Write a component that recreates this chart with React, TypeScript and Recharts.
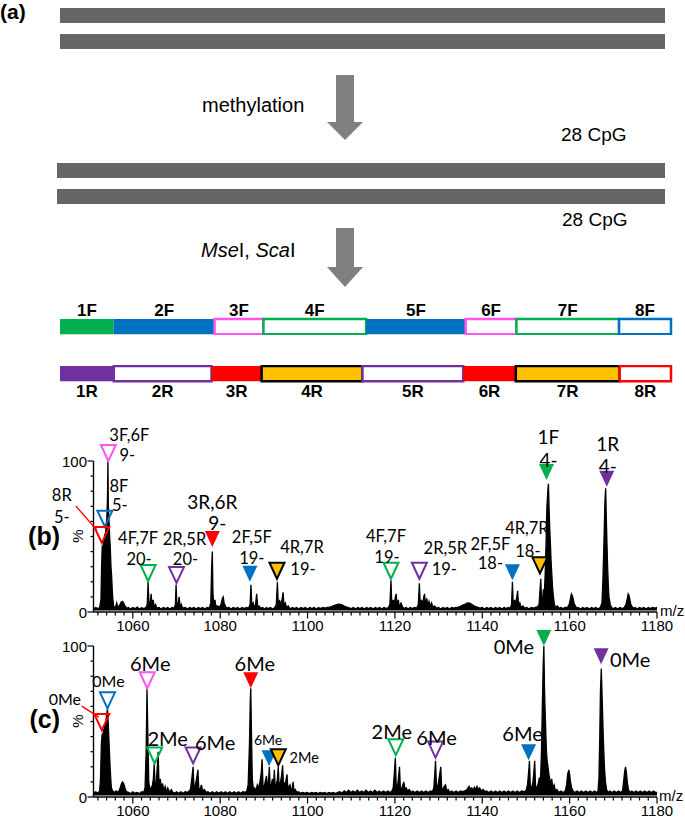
import React from "react";
import {
  BarChart,
  Bar,
  XAxis,
  YAxis,
  LabelList,
  ComposedChart,
  Area,
  Scatter,
} from "recharts";

// ---- (a) schematic ----
const dnaStrands = [
  { strand: "top", length: 1000 },
  { strand: "bottom", length: 1000 },
];
const fwdNames = ["1F", "2F", "3F", "4F", "5F", "6F", "7F", "8F"];
const fwdLengths = [88, 165, 80, 168, 163, 83, 168, 85];
const revNames = ["1R", "2R", "3R", "4R", "5R", "6R", "7R", "8R"];
const revLengths = [88, 160, 82, 165, 165, 86, 170, 84];

// ---- (b), (c) spectra ----
const majorTicks = [1060, 1080, 1100, 1120, 1140, 1160, 1180];
const yTicks = [0, 10, 20, 30, 40, 50, 60, 70, 80, 90, 100];

const specB: [number, number][] = [
  [1051, 2], [1051.5, 3], [1052, 2.2], [1052.4, 3],
  [1052.7, 8], [1052.85, 30], [1053.0, 44], [1053.15, 40], [1053.3, 47], [1053.45, 44], [1053.6, 52], [1053.75, 50], [1053.9, 58], [1054.05, 62], [1054.2, 75], [1054.3, 100], [1054.4, 70], [1054.55, 60], [1054.7, 50], [1054.85, 42], [1055.0, 30], [1055.15, 24], [1055.3, 14], [1055.45, 8], [1055.6, 4],
  [1056, 2.5], [1056.3, 6], [1056.6, 3], [1057, 4.5], [1057.3, 6.5], [1057.6, 7], [1057.9, 6], [1058.2, 4], [1058.6, 2.5],
  [1059, 3], [1059.5, 2], [1060, 3], [1060.5, 2.2], [1061, 3.2], [1061.5, 2], [1062, 2.8], [1062.5, 2.2], [1063, 3],
  [1063.3, 5], [1063.5, 20], [1063.7, 4], [1064.0, 7], [1064.2, 12], [1064.4, 4], [1064.65, 8], [1064.9, 3], [1065.2, 5], [1065.5, 2.5],
  [1066, 3], [1066.5, 2], [1067, 3], [1067.5, 2.2], [1068, 3], [1068.5, 2], [1069, 3], [1069.5, 2.5],
  [1069.75, 5], [1069.9, 18], [1070.1, 4], [1070.4, 6], [1070.6, 10], [1070.85, 3], [1071.1, 5], [1071.4, 2.5],
  [1072, 3], [1072.5, 2], [1073, 3], [1073.5, 2.2], [1074, 3], [1074.5, 2], [1075, 3], [1075.5, 2.2], [1076, 3], [1076.5, 2], [1077, 3], [1077.5, 2.5],
  [1077.85, 6], [1078.05, 30], [1078.2, 40], [1078.35, 12], [1078.55, 5], [1078.8, 8], [1079.0, 4], [1079.4, 4], [1079.8, 3],
  [1080.2, 5], [1080.5, 9], [1080.7, 10], [1080.9, 6], [1081.2, 4], [1081.5, 2.5],
  [1082, 3], [1082.5, 2], [1083, 3], [1083.5, 2.2], [1084, 3], [1084.5, 2], [1085, 3], [1085.5, 2.2], [1086, 3], [1086.5, 2.5],
  [1086.85, 5], [1087.05, 18], [1087.25, 4], [1087.55, 6], [1087.8, 3], [1088.1, 5], [1088.35, 12], [1088.6, 3], [1088.9, 4], [1089.3, 2.5],
  [1089.7, 3], [1090.2, 2], [1090.6, 3], [1091, 2.2], [1091.5, 3], [1092, 2], [1092.5, 3],
  [1092.85, 5], [1093.1, 20], [1093.3, 4], [1093.6, 8], [1093.85, 4], [1094.15, 8], [1094.4, 13], [1094.6, 4], [1094.9, 6], [1095.2, 3], [1095.6, 4],
  [1096, 2], [1096.5, 3], [1097, 2.2], [1097.5, 3], [1098, 2], [1098.5, 3], [1099, 2.2], [1099.5, 3], [1100, 2], [1100.5, 3], [1101, 2.2], [1101.5, 3], [1102, 2], [1102.5, 3], [1103, 2.2], [1103.5, 3], [1104, 2.5], [1104.5, 3],
  [1105, 3.2], [1105.5, 3.6], [1106, 4.2], [1106.5, 4.8], [1107, 5.2], [1107.5, 5], [1108, 4.5], [1108.5, 3.8], [1109, 3.2], [1109.5, 2.8],
  [1110, 2.2], [1110.5, 3], [1111, 2], [1111.5, 3], [1112, 2.2], [1112.5, 3], [1113, 2], [1113.5, 3], [1114, 2.2], [1114.5, 3], [1115, 2], [1115.5, 3], [1116, 2.2], [1116.5, 3], [1117, 2], [1117.5, 3], [1118, 2.2], [1118.5, 3],
  [1118.85, 5], [1119.1, 21], [1119.3, 4], [1119.6, 8], [1119.85, 5], [1120.1, 10], [1120.3, 12], [1120.5, 4], [1120.8, 8], [1121.0, 3], [1121.4, 6], [1121.8, 3],
  [1122.2, 2.5], [1122.6, 3], [1123, 2], [1123.5, 3], [1124, 2.2], [1124.5, 3], [1125, 2.5],
  [1125.35, 5], [1125.6, 19], [1125.8, 4], [1126.1, 8], [1126.35, 4], [1126.6, 10], [1126.8, 12], [1127.0, 4], [1127.3, 9], [1127.5, 4], [1127.8, 7], [1128.1, 4], [1128.4, 6], [1128.7, 3], [1129.1, 4], [1129.5, 2.5],
  [1130, 3], [1130.5, 2], [1131, 3], [1131.5, 2.2], [1132, 3], [1132.5, 2], [1133, 3], [1133.5, 2.5], [1134, 3], [1134.5, 3.2],
  [1135, 3.8], [1135.5, 4.5], [1136, 5], [1136.5, 5.8], [1137, 6], [1137.5, 5.2], [1138, 4.2], [1138.5, 3.5], [1139, 3],
  [1139.5, 2.5], [1140, 3], [1140.5, 2], [1141, 3], [1141.5, 2.2], [1142, 3], [1142.5, 2], [1143, 3], [1143.5, 2.2], [1144, 3], [1144.5, 2], [1145, 3], [1145.5, 2.2], [1146, 3], [1146.4, 2.5],
  [1146.7, 5], [1146.9, 20], [1147.1, 4], [1147.4, 8], [1147.6, 4], [1147.9, 10], [1148.1, 14], [1148.3, 4], [1148.6, 6], [1148.9, 3], [1149.3, 4],
  [1149.7, 2.5], [1150.2, 3], [1150.7, 2], [1151.2, 3], [1151.7, 2.5], [1152.2, 3], [1152.7, 3.5], [1153.0, 5],
  [1153.2, 14], [1153.4, 22], [1153.6, 5], [1153.85, 10], [1154.0, 15], [1154.2, 12], [1154.4, 25], [1154.6, 45], [1154.8, 70], [1155.0, 80], [1155.15, 85], [1155.3, 68], [1155.45, 55], [1155.6, 45], [1155.75, 34], [1155.9, 26], [1156.1, 16], [1156.3, 10], [1156.5, 5], [1156.8, 3],
  [1157.2, 4], [1157.6, 2.5], [1158, 3], [1158.5, 2.2], [1159, 3], [1159.5, 3],
  [1159.9, 5], [1160.2, 9], [1160.4, 12], [1160.6, 11], [1160.8, 9], [1161.0, 6], [1161.3, 4], [1161.7, 2.5],
  [1162, 3], [1162.5, 2], [1163, 3], [1163.5, 2.2], [1164, 3], [1164.5, 2], [1165, 3], [1165.5, 2.2], [1166, 3], [1166.5, 2], [1167, 3],
  [1167.4, 6], [1167.6, 20], [1167.8, 40], [1167.95, 58], [1168.1, 75], [1168.25, 82], [1168.4, 62], [1168.55, 45], [1168.7, 30], [1168.85, 18], [1169.0, 10], [1169.3, 5], [1169.6, 3],
  [1170, 2.2], [1170.5, 3], [1171, 2], [1171.5, 3], [1172, 2.2], [1172.5, 3],
  [1172.9, 5], [1173.2, 9], [1173.4, 12], [1173.6, 11], [1173.8, 8], [1174.0, 5], [1174.3, 3.5], [1174.7, 2.5],
  [1175, 3], [1175.5, 2], [1176, 3], [1176.5, 2.2], [1177, 3], [1177.5, 2], [1178, 3], [1178.5, 2.2], [1179, 3], [1179.5, 2.5], [1180, 3],
];

const specC: [number, number][] = [
  [1051, 2.5], [1051.5, 3.5], [1052, 2.5], [1052.4, 4],
  [1052.6, 12], [1052.8, 35], [1053.0, 42], [1053.15, 40], [1053.3, 45], [1053.45, 43], [1053.6, 48], [1053.75, 47], [1053.9, 52], [1054.05, 55], [1054.2, 59], [1054.35, 50], [1054.5, 40], [1054.65, 30], [1054.8, 20], [1054.95, 12], [1055.1, 6], [1055.4, 4],
  [1055.8, 3], [1056.2, 4], [1056.6, 3], [1057.0, 5], [1057.3, 8], [1057.6, 10], [1057.9, 9], [1058.2, 6], [1058.5, 3.5],
  [1059, 3], [1059.5, 2.2], [1060, 3.5], [1060.5, 2.5], [1061, 3], [1061.5, 2.2], [1062, 3.5], [1062.5, 3],
  [1062.8, 6], [1063.05, 30], [1063.25, 72], [1063.45, 40], [1063.65, 10], [1063.9, 5], [1064.2, 6], [1064.5, 8], [1064.7, 12], [1064.9, 22], [1065.1, 8], [1065.4, 10], [1065.6, 20], [1065.8, 30], [1066.0, 8], [1066.3, 12], [1066.55, 5], [1066.8, 9], [1067.1, 4], [1067.4, 7], [1067.7, 3.5], [1068.0, 6], [1068.4, 3], [1068.8, 5],
  [1069.2, 3], [1069.6, 2.5], [1070, 3.5], [1070.5, 2.5], [1071, 3.5], [1071.5, 2.5], [1072, 3.5], [1072.5, 3], [1072.9, 4],
  [1073.2, 5], [1073.5, 12], [1073.8, 20], [1074.0, 6], [1074.3, 8], [1074.6, 12], [1074.9, 18], [1075.1, 6], [1075.4, 5], [1075.7, 8], [1076.0, 4], [1076.4, 5], [1076.8, 3],
  [1077.2, 3.5], [1077.7, 2.5], [1078.2, 3.5], [1078.7, 2.5], [1079.2, 3.5], [1079.7, 2.5], [1080.2, 3.5], [1080.7, 2.5], [1081.2, 3.5], [1081.7, 2.5], [1082.2, 3.5], [1082.7, 2.5], [1083.2, 3.5], [1083.7, 2.5], [1084.2, 3.5], [1084.7, 2.5], [1085.2, 3.5], [1085.7, 3], [1086.1, 4],
  [1086.4, 8], [1086.7, 35], [1086.9, 65], [1087.0, 72], [1087.15, 45], [1087.35, 12], [1087.6, 5], [1087.9, 6], [1088.2, 4], [1088.5, 8], [1088.8, 6], [1089.1, 10], [1089.4, 16], [1089.6, 25], [1089.8, 8], [1090.05, 6], [1090.3, 10], [1090.6, 14], [1090.85, 6], [1091.05, 10], [1091.25, 20], [1091.45, 6], [1091.7, 8], [1091.95, 12], [1092.2, 6], [1092.4, 18], [1092.6, 6], [1092.85, 8], [1093.1, 12], [1093.3, 20], [1093.5, 6], [1093.8, 10], [1094.05, 14], [1094.3, 21], [1094.5, 7], [1094.75, 9], [1095.0, 10], [1095.3, 15], [1095.5, 5], [1095.75, 7], [1096.0, 8], [1096.25, 4], [1096.5, 6], [1096.7, 10], [1096.9, 4], [1097.2, 5], [1097.5, 3],
  [1097.9, 3.5], [1098.4, 2.5], [1098.9, 3], [1099.4, 2.5], [1099.9, 3], [1100.4, 2.2], [1100.9, 3], [1101.4, 2.5], [1101.9, 3], [1102.4, 2.2], [1102.9, 3], [1103.4, 2.5], [1103.9, 3], [1104.4, 2.2], [1104.9, 3], [1105.4, 2.5], [1105.9, 3], [1106.4, 2.2], [1106.9, 3],
  [1107.4, 3.5], [1107.9, 2.5], [1108.4, 4], [1108.9, 3], [1109.4, 4.5], [1109.9, 3], [1110.4, 4], [1110.9, 3], [1111.4, 4.5], [1111.9, 3], [1112.4, 4], [1112.9, 3], [1113.4, 4.5], [1113.9, 3], [1114.4, 4], [1114.9, 3], [1115.4, 4.5], [1115.9, 3], [1116.4, 4], [1116.9, 3], [1117.4, 4], [1117.9, 3], [1118.4, 4], [1118.9, 3], [1119.3, 4],
  [1119.6, 6], [1119.85, 15], [1120.1, 26], [1120.3, 8], [1120.55, 6], [1120.8, 12], [1121.05, 20], [1121.25, 6], [1121.5, 5], [1121.8, 8], [1122.05, 10], [1122.3, 5], [1122.6, 6], [1122.9, 4], [1123.3, 5], [1123.7, 3],
  [1124.1, 4], [1124.6, 3], [1125.1, 4], [1125.6, 3], [1126.1, 4], [1126.6, 3], [1127.1, 4], [1127.6, 3], [1128.1, 4], [1128.6, 3.5],
  [1128.9, 6], [1129.1, 14], [1129.3, 24], [1129.5, 8], [1129.75, 6], [1130.0, 10], [1130.3, 16], [1130.5, 20], [1130.7, 6], [1130.95, 5], [1131.3, 7], [1131.6, 8], [1131.85, 4], [1132.2, 5], [1132.6, 3],
  [1133.0, 4], [1133.5, 3], [1134.0, 4], [1134.5, 3], [1135.0, 4], [1135.5, 3.5], [1136.0, 4], [1136.5, 5], [1137.0, 7], [1137.3, 5], [1137.6, 6], [1137.9, 4.5], [1138.2, 6.5], [1138.5, 5], [1138.8, 7], [1139.1, 5], [1139.4, 6], [1139.8, 4], [1140.2, 5], [1140.6, 3.5],
  [1141.0, 4], [1141.5, 3], [1142.0, 4], [1142.5, 3], [1143.0, 4], [1143.5, 3], [1144.0, 4], [1144.5, 3], [1145.0, 4], [1145.5, 3], [1146.0, 4], [1146.5, 3], [1147.0, 4], [1147.5, 3], [1148.0, 4], [1148.5, 3], [1149.0, 4], [1149.5, 3.5], [1150.0, 4],
  [1150.35, 8], [1150.6, 16], [1150.8, 24], [1151.0, 7], [1151.3, 6], [1151.6, 10], [1151.8, 16], [1152.0, 24], [1152.2, 7], [1152.5, 6], [1152.8, 9], [1153.1, 13], [1153.3, 8], [1153.55, 30], [1153.75, 60], [1153.95, 88], [1154.1, 100], [1154.25, 72], [1154.4, 56], [1154.55, 42], [1154.7, 30], [1154.85, 24], [1155.05, 20], [1155.25, 15], [1155.45, 12], [1155.65, 8], [1155.9, 12], [1156.15, 6], [1156.45, 8], [1156.75, 4], [1157.1, 5], [1157.5, 3],
  [1158.0, 4], [1158.5, 3], [1159.0, 4],
  [1159.3, 8], [1159.55, 15], [1159.8, 18], [1160.0, 15], [1160.2, 10], [1160.45, 6], [1160.8, 4], [1161.2, 3],
  [1161.7, 4], [1162.2, 3], [1162.7, 4], [1163.2, 3], [1163.7, 4], [1164.2, 3], [1164.7, 4], [1165.2, 3], [1165.7, 4], [1166.2, 3], [1166.5, 4],
  [1166.7, 12], [1166.9, 40], [1167.05, 70], [1167.25, 85], [1167.4, 70], [1167.55, 55], [1167.7, 40], [1167.85, 28], [1168.0, 18], [1168.2, 10], [1168.45, 5], [1168.8, 3],
  [1169.2, 4], [1169.7, 3], [1170.2, 4], [1170.7, 3], [1171.2, 4], [1171.7, 3], [1172.1, 4],
  [1172.35, 10], [1172.6, 17], [1172.8, 20], [1173.0, 16], [1173.2, 10], [1173.45, 5], [1173.8, 3],
  [1174.2, 4], [1174.7, 3], [1175.2, 4], [1175.7, 3], [1176.2, 4], [1176.7, 3], [1177.2, 4], [1177.7, 3], [1178.2, 4], [1178.7, 3], [1179.2, 4], [1179.7, 3], [1180, 3],
];

// peak annotations: fragment, charge / methylation label, m/z, height (%)
const markersB = [
  { id: "b1", frag: "3F,6F", text: "9-", mz: 1054.4, y: 100 },
  { id: "b2", frag: "8F", text: "5-", mz: 1053.6, y: 56.5 },
  { id: "b3", frag: "8R", text: "5-", mz: 1052.9, y: 45.7 },
  { id: "b4", frag: "4F,7F", text: "20-", mz: 1063.5, y: 20.5 },
  { id: "b5", frag: "2R,5R", text: "20-", mz: 1070.0, y: 19.2 },
  { id: "b6", frag: "3R,6R", text: "9-", mz: 1078.2, y: 43 },
  { id: "b7", frag: "2F,5F", text: "19-", mz: 1086.8, y: 20 },
  { id: "b8", frag: "4R,7R", text: "19-", mz: 1093.0, y: 22 },
  { id: "b9", frag: "4F,7F", text: "19-", mz: 1119.1, y: 22 },
  { id: "b10", frag: "2R,5R", text: "19-", mz: 1125.6, y: 22 },
  { id: "b11", frag: "2F,5F", text: "18-", mz: 1146.9, y: 21 },
  { id: "b12", frag: "4R,7R", text: "18-", mz: 1153.2, y: 25.6 },
  { id: "b13", frag: "1F", text: "4-", mz: 1154.7, y: 87.4 },
  { id: "b14", frag: "1R", text: "4-", mz: 1168.5, y: 83 },
];

const markersC = [
  { id: "c1", frag: "8R", text: "0Me", mz: 1052.9, y: 44.3 },
  { id: "c2", frag: "8F", text: "0Me", mz: 1054.2, y: 58.7 },
  { id: "c3", frag: "3F", text: "6Me", mz: 1063.3, y: 72 },
  { id: "c4", frag: "4F", text: "2Me", mz: 1065.0, y: 22.2 },
  { id: "c5", frag: "2R", text: "6Me", mz: 1073.8, y: 22.2 },
  { id: "c6", frag: "3R", text: "6Me", mz: 1087.0, y: 72 },
  { id: "c7", frag: "2F", text: "6Me", mz: 1091.2, y: 20.4 },
  { id: "c8", frag: "4R", text: "2Me", mz: 1093.3, y: 21 },
  { id: "c9", frag: "4F", text: "2Me", mz: 1120.2, y: 27.7 },
  { id: "c10", frag: "2R", text: "6Me", mz: 1129.3, y: 26.1 },
  { id: "c11", frag: "2F", text: "6Me", mz: 1150.6, y: 24.4 },
  { id: "c12", frag: "1F", text: "0Me", mz: 1154.1, y: 100 },
  { id: "c13", frag: "1R", text: "0Me", mz: 1167.2, y: 87.9 },
];

// label placement (px offsets from the triangle tip)
type Place = { lines: [number, number][]; size: number; leader?: [number, number, number, number] };
const placeB: Record<string, Place> = {
  b1: { lines: [[21, -26], [19, -6]], size: 16.5 },
  b2: { lines: [[14, -41], [15, -22]], size: 16.5 },
  b3: { lines: [[-40, -48], [-40, -26]], size: 16.5, leader: [-26, -37, -5, -13] },
  b4: { lines: [[-10, -43], [-9, -22]], size: 16.5 },
  b5: { lines: [[8, -44], [9, -24]], size: 16.5 },
  b6: { lines: [[0, -46], [5, -25]], size: 19 },
  b7: { lines: [[2, -45], [2, -24]], size: 16.5 },
  b8: { lines: [[25, -32], [26, -10]], size: 16.5 },
  b9: { lines: [[-5, -43], [-4, -22]], size: 16.5 },
  b10: { lines: [[26, -31], [25, -10]], size: 16.5 },
  b11: { lines: [[-22, -36], [-22, -17]], size: 16.5 },
  b12: { lines: [[-13, -45], [-12, -22]], size: 16.5 },
  b13: { lines: [[2, -44], [2, -21]], size: 19 },
  b14: { lines: [[1, -43], [1, -21]], size: 19 },
};
const placeC: Record<string, Place> = {
  c1: { lines: [[-37, -32]], size: 16, leader: [-20, -24, -3, -13] },
  c2: { lines: [[1, -28]], size: 16 },
  c3: { lines: [[3, -25]], size: 20 },
  c4: { lines: [[13, -25]], size: 20 },
  c5: { lines: [[22, -21]], size: 20 },
  c6: { lines: [[4, -25]], size: 20 },
  c7: { lines: [[-1, -27]], size: 14 },
  c8: { lines: [[26, -8]], size: 14.5 },
  c9: { lines: [[-4, -24]], size: 20 },
  c10: { lines: [[1, -21]], size: 20 },
  c11: { lines: [[-6, -27]], size: 20 },
  c12: { lines: [[-30, 0]], size: 20 },
  c13: { lines: [[29, -5]], size: 20 },
};

const GREEN = "#00B050";
const BLUE = "#0070C0";
const PINK = "#FF55EE";
const PURPLE = "#7030A0";
const RED = "#FF0000";
const ORANGE = "#FFC000";
const WHITE = "#ffffff";

const segStyle: Record<string, { fill: string; stroke: string }> = {
  "1F": { fill: GREEN, stroke: "none" },
  "2F": { fill: BLUE, stroke: "none" },
  "3F": { fill: WHITE, stroke: PINK },
  "4F": { fill: WHITE, stroke: GREEN },
  "5F": { fill: BLUE, stroke: "none" },
  "6F": { fill: WHITE, stroke: PINK },
  "7F": { fill: WHITE, stroke: GREEN },
  "8F": { fill: WHITE, stroke: BLUE },
  "1R": { fill: PURPLE, stroke: "none" },
  "2R": { fill: WHITE, stroke: PURPLE },
  "3R": { fill: RED, stroke: "none" },
  "4R": { fill: ORANGE, stroke: "#000" },
  "5R": { fill: WHITE, stroke: PURPLE },
  "6R": { fill: RED, stroke: "none" },
  "7R": { fill: ORANGE, stroke: "#000" },
  "8R": { fill: WHITE, stroke: RED },
};

const AX_FONT = "'Liberation Sans', Arial, sans-serif";
const LBL_FONT = "Lato, 'Noto Sans', sans-serif";
const xTicks = Array.from({ length: 65 }, (_, k) => 1052 + 2 * k);

function DnaPair({ top, left, right }: { top: number; left: number; right: number }) {
  return (
    <div style={{ position: "absolute", left: 0, top }}>
      <BarChart width={685} height={52} layout="vertical" data={dnaStrands}
        margin={{ top: 0, right, bottom: 0, left }} barSize={15}>
        <XAxis type="number" domain={[0, 1000]} hide />
        <YAxis type="category" dataKey="strand" hide />
        <Bar dataKey="length" fill="#666666" isAnimationActive={false} />
      </BarChart>
    </div>
  );
}

function SegmentRow({ names, lengths, top, side }: { names: string[]; lengths: number[]; top: number; side: "top" | "bottom" }) {
  const row: Record<string, string | number> = { row: side };
  names.forEach((n, i) => (row[n] = lengths[i]));
  const margin = side === "top"
    ? { top: 23, right: 14, bottom: 0, left: 60 }
    : { top: 0, right: 14, bottom: 23, left: 60 };
  return (
    <div style={{ position: "absolute", left: 0, top }}>
      <BarChart width={685} height={40} layout="vertical" data={[row]} margin={margin} barSize={17}>
        <XAxis type="number" domain={[0, 1000]} hide />
        <YAxis type="category" dataKey="row" hide />
        {names.map((n) => (
          <Bar key={n} dataKey={n} stackId="s" fill={segStyle[n].fill} stroke={segStyle[n].stroke}
            strokeWidth={2.5} isAnimationActive={false}>
            <LabelList dataKey={n} position={side} offset={side === "top" ? 3 : 4}
              formatter={() => n} fill="#000" fontSize={17} fontWeight="bold" fontFamily={AX_FONT} />
          </Bar>
        ))}
      </BarChart>
    </div>
  );
}

const XTick = (p: any) => {
  const v = p.payload.value;
  const major = majorTicks.includes(v);
  return (
    <g>
      <line x1={p.x} x2={p.x} y1={p.y} y2={p.y + (major ? 6.5 : 3.5)} stroke="#000" strokeWidth={1.2} />
      {major && (
        <text x={p.x} y={p.y + 19} textAnchor="middle" fontSize={15} fontFamily={AX_FONT} fill="#000">{v}</text>
      )}
    </g>
  );
};

const YTick = (p: any) => {
  const v = p.payload.value;
  const major = v === 0 || v === 100;
  return (
    <g>
      <line x1={p.x} x2={p.x - (major ? 6 : 3)} y1={p.y} y2={p.y} stroke="#000" strokeWidth={1.2} />
      {major && (
        <text x={p.x - 6.5} y={p.y} textAnchor="end" dominantBaseline="central" fontSize={15}
          fontFamily={AX_FONT} fill="#000">{v}</text>
      )}
    </g>
  );
};

function makeMarker(place: Record<string, Place>, twoLine: boolean) {
  return (p: any) => {
    const m = p.payload;
    const cx = p.cx;
    const cy = p.cy;
    const st = segStyle[m.frag.split(",")[0]];
    const hollow = st.fill === WHITE;
    const lay = place[m.id];
    const texts = twoLine ? [m.frag, m.text] : [m.text];
    return (
      <g>
        {lay.leader && (
          <line x1={cx + lay.leader[0]} y1={cy + lay.leader[1]} x2={cx + lay.leader[2]} y2={cy + lay.leader[3]}
            stroke={RED} strokeWidth={1.3} />
        )}
        <polygon points={`${cx - 7.5},${cy - 16} ${cx + 7.5},${cy - 16} ${cx},${cy}`}
          fill={hollow ? "none" : st.fill} stroke={st.stroke} strokeWidth={2} />
        {lay.lines.map(([dx, dy], k) => (
          <text key={k} x={cx + dx} y={cy + dy} textAnchor="middle" dominantBaseline="central"
            fontSize={lay.size} fontFamily={LBL_FONT} fill="#000">{texts[k]}</text>
        ))}
      </g>
    );
  };
}

function Spectrum({ spec, markers, place, twoLine, top }: any) {
  const data = spec.map(([mz, i]: [number, number]) => ({ mz, i }));
  return (
    <div style={{ position: "absolute", left: 0, top }}>
      <ComposedChart width={685} height={240} data={data} margin={{ top: 61, right: 28, bottom: 0, left: 0 }}>
        <XAxis type="number" dataKey="mz" domain={[1051, 1180]} ticks={xTicks} interval={0}
          tickLine={false} tickSize={0} tickMargin={0} height={28}
          axisLine={{ stroke: "#000", strokeWidth: 1.4 }} tick={XTick} />
        <YAxis type="number" domain={[0, 100]} ticks={yTicks} interval={0}
          tickLine={false} tickSize={0} tickMargin={0} width={93.5}
          axisLine={{ stroke: "#000", strokeWidth: 1.4 }} tick={YTick} />
        <Area type="linear" dataKey="i" stroke="#000" strokeWidth={1.3} fill="#000" fillOpacity={1}
          baseValue={1} dot={false} activeDot={false} isAnimationActive={false} />
        <Scatter data={markers} dataKey="y" shape={makeMarker(place, twoLine)} isAnimationActive={false} />
      </ComposedChart>
    </div>
  );
}

export default function App() {
  return (
    <div style={{ position: "absolute", left: 0, top: 0, width: 685, height: 818, background: "#fff", overflow: "hidden" }}>
      <DnaPair top={1.8} left={60} right={20} />
      <DnaPair top={156.5} left={57} right={20} />
      <SegmentRow names={fwdNames} lengths={fwdLengths} top={295} side="top" />
      <SegmentRow names={revNames} lengths={revLengths} top={365} side="bottom" />
      <Spectrum spec={specB} markers={markersB} place={placeB} twoLine={true} top={400} />
      <Spectrum spec={specC} markers={markersC} place={placeC} twoLine={false} top={585} />
      <svg width={685} height={818} style={{ position: "absolute", left: 0, top: 0, pointerEvents: "none" }}>
        <g fontFamily={AX_FONT} fill="#000">
          <text x={0} y={19} fontSize={21} fontWeight="bold">(a)</text>
          <text x={60} y={545} fontSize={25} fontWeight="bold" textAnchor="end">(b)</text>
          <text x={60} y={728} fontSize={25} fontWeight="bold" textAnchor="end">(c)</text>
          <text x={202} y={112} fontSize={20}>methylation</text>
          <text x={561} y={141} fontSize={19}>28 CpG</text>
          <text x={562} y={226} fontSize={19}>28 CpG</text>
          <text x={201} y={257} fontSize={20}>
            <tspan fontStyle="italic">Mse</tspan>I, <tspan fontStyle="italic">Sca</tspan>I
          </text>
          <text x={0} y={0} fontSize={15} transform="translate(83,536) rotate(-90)" textAnchor="middle">%</text>
          <text x={0} y={0} fontSize={15} transform="translate(83,721) rotate(-90)" textAnchor="middle">%</text>
          <text x={660} y={616} fontSize={15}>m/z</text>
          <text x={659} y={801} fontSize={15}>m/z</text>
        </g>
        <g fill="#7f7f7f">
          <rect x={336} y={75} width={18} height={48} />
          <polygon points="327,122 363,122 345,140" />
          <rect x={336} y={228} width={18} height={40} />
          <polygon points="327,267 363,267 345,287" />
        </g>
      </svg>
    </div>
  );
}
